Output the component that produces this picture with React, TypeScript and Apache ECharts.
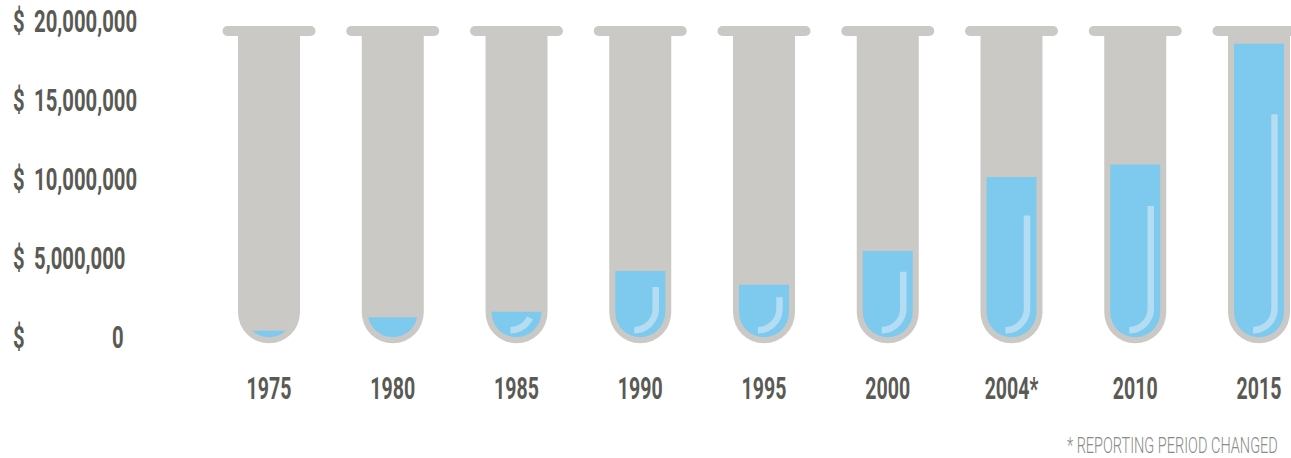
import React, { useEffect, useRef } from "react";
import * as echarts from "echarts";

const years = ["1975", "1980", "1985", "1990", "1995", "2000", "2004*", "2010", "2015"];
const funding = [370000, 1220000, 1570000, 4150000, 3280000, 5420000, 10110000, 10900000, 18560000];
const yTicks = [0, 5000000, 10000000, 15000000, 20000000];
const yMin = 0;
const yMax = 20000000;
const yStep = 5000000;
const footnote = "* REPORTING PERIOD CHANGED";

const FONT = "Roboto, 'DejaVu Sans', sans-serif";
const LABEL_COLOR = "#5a5a55";
const TUBE = "#cac9c5";
const LIQUID = "#7ecaef";
const SHINE = "#b4dcf2";
const LABEL_SIZE = 31;
const X_SCALE = 0.63;
const Y_SCALE = 0.655;

function renderTube(params: any, api: any) {
  const i = api.value(0);
  const v = api.value(1);
  const base = api.coord([i, yMin]);
  const cx = base[0];
  const y0 = base[1];
  const yTop = api.coord([i, yMax])[1];
  const yt = api.coord([i, v])[1];
  const yb = y0 + 0.7;
  const r = 25;
  const cyc = yb - r;

  let liquid: string;
  if (yt <= cyc) {
    liquid = `M ${cx - r} ${yt} L ${cx + r} ${yt} L ${cx + r} ${cyc} A ${r} ${r} 0 0 1 ${cx - r} ${cyc} Z`;
  } else {
    const dy = yt - cyc;
    const w = Math.sqrt(Math.max(0, r * r - dy * dy));
    liquid = `M ${cx - w} ${yt} L ${cx + w} ${yt} A ${r} ${r} 0 0 1 ${cx - w} ${yt} Z`;
  }

  const children: any[] = [
    {
      type: "rect",
      shape: { x: cx - 46.5, y: yTop + 5, width: 93, height: 10, r: 5 },
      style: { fill: TUBE },
    },
    {
      type: "rect",
      shape: { x: cx - 31, y: yTop + 12, width: 62, height: y0 + 6.8 - (yTop + 12), r: [0, 0, 31, 31] },
      style: { fill: TUBE },
    },
    {
      type: "path",
      shape: { pathData: liquid },
      style: { fill: LIQUID },
    },
  ];

  const h = yb - yt;
  if (h > 22) {
    const R = 21.5;
    const hx = cx + 15.5;
    const acx = cx - 6;
    const acy = yb - 28.5;
    const endY = yb - 7;
    const topH = yb - 0.76 * h;
    let d: string;
    if (topH < acy) {
      d = `M ${hx} ${topH} L ${hx} ${acy} A ${R} ${R} 0 0 1 ${acx} ${endY}`;
    } else {
      const s = Math.min(1, (topH - acy) / R);
      const sx = acx + R * Math.sqrt(1 - s * s);
      d = `M ${sx} ${topH} A ${R} ${R} 0 0 1 ${acx} ${endY}`;
    }
    children.push({
      type: "path",
      shape: { pathData: d },
      style: { fill: "none", stroke: SHINE, lineWidth: 6.5, lineCap: "butt" },
    });
  }

  return { type: "group", children };
}

function labelStyle(text: string, align: string) {
  return {
    text,
    fontFamily: FONT,
    fontWeight: "bold",
    fontSize: LABEL_SIZE,
    fill: LABEL_COLOR,
    align,
    verticalAlign: "middle",
  };
}

function renderYearLabel(params: any, api: any) {
  const i = api.value(0);
  const p = api.coord([i, yMin]);
  return {
    type: "text",
    x: p[0],
    y: p[1] + 52,
    scaleX: X_SCALE,
    style: labelStyle(years[i], "center"),
  };
}

function renderYLabel(params: any, api: any) {
  const v = api.value(1);
  const p = api.coord([0, v]);
  const left = p[0] - 256;
  const y = p[1] + 0.5;
  const numX = v === 0 ? left + 99 : left + 21;
  return {
    type: "group",
    children: [
      {
        type: "text",
        x: left,
        y,
        scaleX: Y_SCALE,
        style: labelStyle("$", "left"),
      },
      {
        type: "text",
        x: numX,
        y,
        scaleX: Y_SCALE,
        style: labelStyle(v.toLocaleString("en-US"), "left"),
      },
    ],
  };
}

export default function App() {
  const ref = useRef<HTMLDivElement>(null);

  useEffect(() => {
    if (!ref.current) return;
    const chart = echarts.init(ref.current, null, { renderer: "svg" });
    chart.setOption({
      animation: false,
      backgroundColor: "#ffffff",
      grid: { left: 269, right: 32, top: 21, bottom: 121.5 },
      xAxis: {
        type: "category",
        data: years,
        boundaryGap: false,
        axisLine: { show: false },
        axisTick: { show: false },
        splitLine: { show: false },
        axisLabel: { show: false },
      },
      yAxis: {
        type: "value",
        min: yMin,
        max: yMax,
        interval: yStep,
        axisLine: { show: false },
        axisTick: { show: false },
        splitLine: { show: false },
        axisLabel: { show: false },
      },
      graphic: [
        {
          type: "text",
          right: 13,
          bottom: 1,
          scaleX: 0.66,
          style: {
            text: footnote,
            fontFamily: FONT,
            fontWeight: 300,
            fontSize: 22,
            fill: "#8a8a86",
          },
        },
      ],
      series: [
        {
          type: "custom",
          clip: false,
          renderItem: renderTube,
          encode: { x: 0, y: 1 },
          data: funding.map((v, i) => [i, v]),
        },
        {
          type: "custom",
          clip: false,
          renderItem: renderYearLabel,
          encode: { x: 0, y: 1 },
          data: years.map((_, i) => [i, yMin]),
        },
        {
          type: "custom",
          clip: false,
          renderItem: renderYLabel,
          encode: { x: 0, y: 1 },
          data: yTicks.map((v) => [0, v]),
        },
      ],
    });
    return () => chart.dispose();
  }, []);

  return (
    <div
      ref={ref}
      style={{ position: "fixed", left: 0, top: 0, width: 1291, height: 458 }}
    />
  );
}
